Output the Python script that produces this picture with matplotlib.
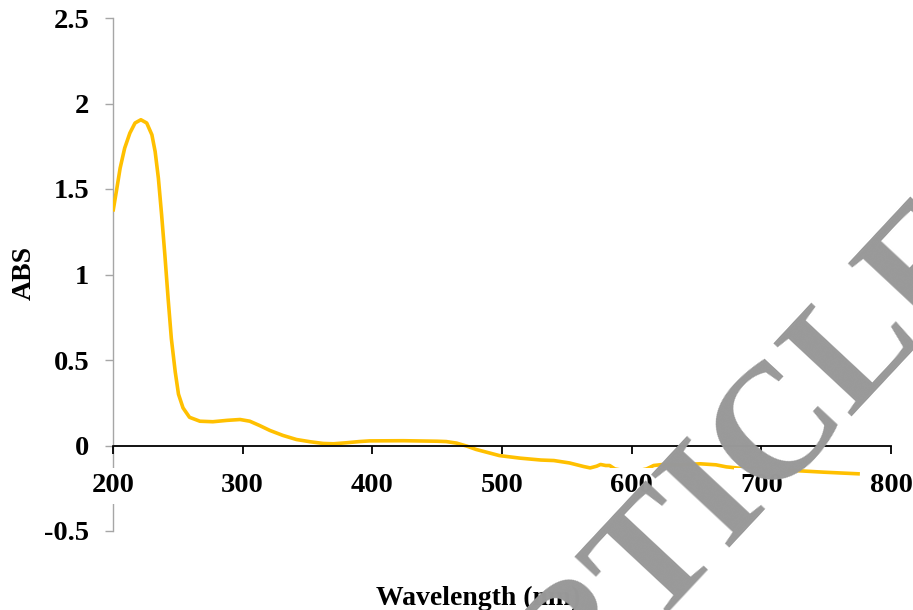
import matplotlib
matplotlib.use("Agg")
import matplotlib.pyplot as plt

# absorbance spectrum
wavelength = [200, 203, 205.5, 209, 213, 217, 221.5, 226, 230, 232.5, 235,
              237.5, 240, 242.5, 245, 248, 250.5, 254, 259, 267, 277, 288,
              298, 305.5, 313, 321, 331, 341.5, 352, 362, 370, 380, 390, 398,
              424, 450, 457, 465, 473, 480, 488, 498, 514, 530, 540, 552, 563,
              568, 573, 576, 580, 583, 587, 595, 605, 611.5, 617, 624, 637,
              653, 665, 673, 690, 710, 727, 748, 776]
absorbance = [1.368, 1.505, 1.622, 1.739, 1.827, 1.886, 1.905, 1.886, 1.817,
              1.719, 1.563, 1.348, 1.114, 0.860, 0.625, 0.430, 0.300, 0.220,
              0.165, 0.142, 0.139, 0.147, 0.152, 0.142, 0.117, 0.088, 0.059,
              0.035, 0.022, 0.012, 0.010, 0.016, 0.023, 0.027, 0.028, 0.025,
              0.023, 0.014, -0.004, -0.023, -0.039, -0.059, -0.074, -0.085,
              -0.088, -0.102, -0.123, -0.131, -0.121, -0.111, -0.117, -0.117,
              -0.137, -0.148, -0.148, -0.137, -0.117, -0.111, -0.113, -0.107,
              -0.113, -0.125, -0.138, -0.142, -0.147, -0.156, -0.166]

x_ticks = [200, 300, 400, 500, 600, 700, 800]
y_ticks = [-0.5, 0, 0.5, 1, 1.5, 2, 2.5]
y_tick_labels = ["-0.5", "0", "0.5", "1", "1.5", "2", "2.5"]

plt.rcParams['font.family'] = ['Liberation Serif', 'DejaVu Serif']
plt.rcParams['font.weight'] = 'bold'

fig = plt.figure(figsize=(9.13, 6.10), dpi=100)
ax = fig.add_axes([113 / 913, 1 - 531 / 610, (891 - 113) / 913, (531 - 18) / 610])

ax.plot(wavelength, absorbance, color='#FFC000', lw=2.6, zorder=2,
        solid_joinstyle='round', solid_capstyle='butt')

ax.set_xlim(200, 800)
ax.set_ylim(-0.5, 2.5)

# axis crosses at zero, tick labels sit on white boxes over the lines
ax.spines['top'].set_visible(False)
ax.spines['right'].set_visible(False)
ax.spines['bottom'].set_position(('data', 0))
ax.spines['bottom'].set_color('black')
ax.spines['bottom'].set_linewidth(1.3)
ax.spines['left'].set_color('#a6a6a6')
ax.spines['left'].set_linewidth(1.0)
ax.spines['left'].set_zorder(1)
ax.set_axisbelow(False)
ax.xaxis.set_zorder(3)

ax.set_xticks(x_ticks)
ax.set_xticklabels([str(v) for v in x_ticks])
ax.set_yticks(y_ticks)
ax.set_yticklabels(y_tick_labels)
ax.tick_params(axis='x', direction='out', length=6, width=1.3, color='black',
               labelsize=20.5, pad=14)
ax.tick_params(axis='y', direction='out', length=6, width=1.0, color='#a6a6a6',
               labelsize=20.5, pad=11)
for lab in ax.get_xticklabels():
    lab.set_bbox(dict(boxstyle='square,pad=0.2', fc='white', ec='none'))

fig.text(24 / 913, 1 - 273 / 610, "ABS", rotation=90, ha='center', va='center',
         fontsize=20, fontweight='bold')
fig.text(478 / 913, 1 - 605 / 610, "Wavelength (nm)", ha='center', va='baseline',
         fontsize=20, fontweight='bold')

# grey watermark across the lower right
fig.text(494 / 913, 1 - 799 / 610, "ARTICLE", rotation=47, rotation_mode='anchor',
         ha='left', va='baseline', fontsize=118, fontweight='bold',
         color='#999999', zorder=10)

fig.savefig("out.png", dpi=100)
